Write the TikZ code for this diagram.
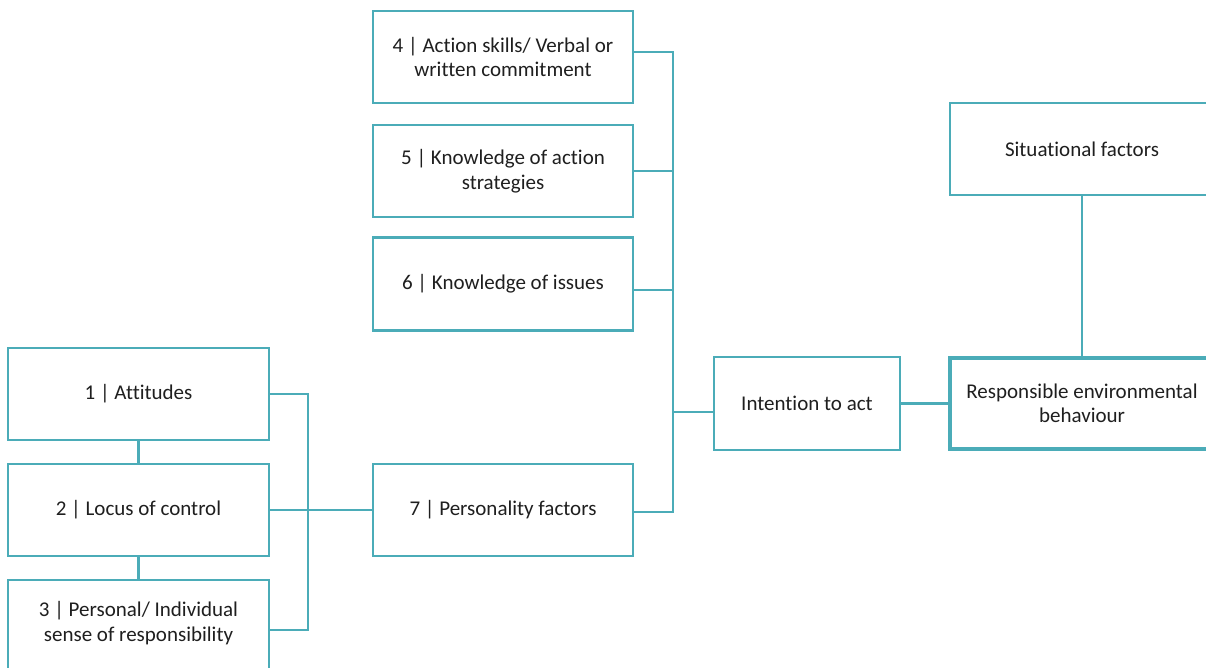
\documentclass[tikz,border=0pt]{standalone}
\usepackage{fontspec}
\setmainfont{Carlito}[Ligatures=NoCommon]
\definecolor{teal1}{RGB}{75,172,184}
\tikzset{
  box/.style={draw=teal1, line width=2.2pt, fill=white, align=center,
    inner sep=0pt, font=\fontsize{21}{24.5}\selectfont, text=black!88},
  mainbox/.style={box, line width=4.6pt},
  link/.style={draw=teal1, line width=2.2pt},
  lbl/.style={align=center, inner sep=0pt, font=\fontsize{21}{24.5}\selectfont, text=black!88}
}
\begin{document}
\begin{tikzpicture}[x=1pt,y=-1pt]
\useasboundingbox[fill=white] (0,0) rectangle (1206,667);

% left column
\node[box, minimum width=261, minimum height=92] (b1) at (138.5,394) {1 | Attitudes};
\node[box, minimum width=261, minimum height=92] (b2) at (138.5,510) {2 | Locus of control};
\node[box, minimum width=261, minimum height=122, anchor=north] (b3) at (138.5,579) {};
\node[lbl] (b3t) at (138.5,623) {3 | Personal/ Individual\\sense of responsibility};

% middle column
\node[box, minimum width=260, minimum height=92] (b4) at (503,57) {4 | Action skills/ Verbal or\\written commitment};
\node[box, minimum width=260, minimum height=92] (b5) at (503,171) {5 | Knowledge of action\\strategies};
\node[box, minimum width=260, minimum height=93] (b6) at (503,284) {6 | Knowledge of issues};
\node[box, minimum width=260, minimum height=92] (b7) at (503,510) {7 | Personality factors};

% right part
\node[box, minimum width=186, minimum height=93] (ia) at (807,403.5) {Intention to act};
\node[mainbox, minimum width=264, minimum height=91] (reb) at (1082,403.5) {Responsible environmental\\behaviour};
\node[box, minimum width=264, minimum height=92] (sf) at (1082,149) {Situational factors};

% bus lines
\coordinate (busL) at (308,0);
\coordinate (busM) at (673,0);

% left connectors
\draw[link] (b1) -- (b2);
\draw[link] (b2) -- (b3);
\draw[link] (b1.east) -- (busL |- b1.east) -- (busL |- 0,630) -- (b3.east |- 0,630);
\draw[link] (b2.east) -- (b7.west);

% middle connectors
\draw[link] (b4.east |- 0,52) -- (busM |- 0,52) -- (busM |- 0,512) -- (b7.east |- 0,512);
\draw[link] (b5.east) -- (busM |- b5.east);
\draw[link] (b6.east |- 0,290) -- (busM |- 0,290);
\draw[link] (busM |- 0,412) -- (ia.west |- 0,412);

% right connectors
\draw[link] (ia.east) -- (reb.west);
\draw[link] (sf.south) -- (reb.north);
\end{tikzpicture}
\end{document}
